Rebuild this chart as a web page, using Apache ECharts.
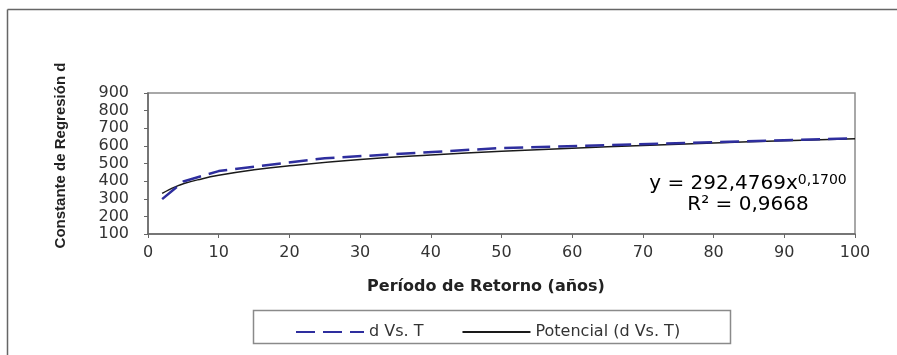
<!DOCTYPE html>
<html>
<head>
<meta charset="utf-8">
<script src="https://cdn.jsdelivr.net/npm/echarts@6/dist/echarts.min.js"></script>
<style>
html,body{margin:0;padding:0;background:#fff;}
#chart{width:897px;height:355px;}
</style>
</head>
<body>
<div id="chart"></div>
<script>
// Observed data: d vs. return period T
var periods = [2, 5, 10, 25, 50, 100];
var dValues = [298, 398, 457, 530, 588, 643];

// Power trendline
var trendT = [2, 3, 4, 5, 7, 10, 15, 20, 30, 40, 50, 60, 70, 80, 90, 100];
var trendD = [330, 352, 370, 385, 407, 433, 464, 487, 522, 548, 569, 587, 602, 616, 629, 640];

var xTicks = [0, 10, 20, 30, 40, 50, 60, 70, 80, 90, 100];
var yTicks = [100, 200, 300, 400, 500, 600, 700, 800, 900];

var seriesNames = ['d Vs. T', 'Potencial (d Vs. T)'];
var xTitle = 'Período de Retorno (años)';
var yTitle = 'Constante de Regresión d';
var eqLine1 = 'y = 292,4769x';
var eqExp = '0,1700';
var eqLine2 = 'R² = 0,9668';

function pairs(xs, ys) { return xs.map(function (x, i) { return [x, ys[i]]; }); }

var chart = echarts.init(document.getElementById('chart'), null, {renderer: 'canvas'});
var FONT = 'DejaVu Sans';

chart.setOption({
  backgroundColor: '#ffffff',
  animation: false,
  grid: {left: 148, right: 42, top: 93, bottom: 121, show: true, borderColor: '#8c8c8c', borderWidth: 1.5, backgroundColor: '#ffffff'},
  xAxis: {
    type: 'value', min: xTicks[0], max: xTicks[xTicks.length - 1], interval: 10,
    name: xTitle, nameLocation: 'middle', nameGap: 45,
    nameTextStyle: {fontFamily: FONT, fontWeight: 'bold', fontSize: 16, color: '#222', padding: [0, 31, 0, 0]},
    axisLine: {lineStyle: {color: '#666', width: 1.5}},
    axisTick: {show: true, inside: false, length: 4, lineStyle: {color: '#666'}},
    axisLabel: {fontFamily: FONT, fontSize: 16, color: '#333', margin: 11},
    splitLine: {show: false}
  },
  yAxis: {
    type: 'value', min: yTicks[0], max: yTicks[yTicks.length - 1], interval: 100,
    name: yTitle, nameLocation: 'middle', nameGap: 80, nameRotate: 90,
    nameTextStyle: {fontFamily: 'Liberation Sans', fontWeight: 'bold', fontSize: 15, color: '#222', padding: [0, 0, 0, 16]},
    axisLine: {show: true, lineStyle: {color: '#666', width: 1.5}},
    axisTick: {show: true, inside: false, length: 4, lineStyle: {color: '#666'}},
    axisLabel: {fontFamily: FONT, fontSize: 16, color: '#333', margin: 19},
    splitLine: {show: false}
  },
  legend: {
    left: 290, top: 319, itemWidth: 68, itemHeight: 14, itemGap: 38,
    itemStyle: {opacity: 0},
    textStyle: {fontFamily: FONT, fontSize: 16, color: '#333'},
    data: seriesNames
  },
  graphic: [
    {type: 'line', silent: true, z: -10, shape: {x1: 7.5, y1: 9.5, x2: 7.5, y2: 360}, style: {stroke: '#666', lineWidth: 1.5}},
    {type: 'line', silent: true, z: -10, shape: {x1: 7.5, y1: 9.5, x2: 900, y2: 9.5}, style: {stroke: '#666', lineWidth: 1.5}},
    {type: 'rect', silent: true, z: -5, shape: {x: 253.5, y: 310.5, width: 477, height: 33}, style: {fill: '#fff', stroke: '#8a8a8a', lineWidth: 1.5}},
    {type: 'text', silent: true, x: 748, y: 173, z: 10,
      style: {
        text: '{m|' + eqLine1 + '}{s|' + eqExp + '}\n{r|' + eqLine2 + '}',
        align: 'center', verticalAlign: 'top',
        rich: {
          m: {fontFamily: FONT, fontSize: 20, color: '#222', lineHeight: 21, verticalAlign: 'bottom', align: 'center'},
          s: {fontFamily: FONT, fontSize: 14, color: '#222', lineHeight: 21, verticalAlign: 'top', align: 'center', padding: [0, 0, 8, 0]},
          r: {fontFamily: FONT, fontSize: 20, color: '#222', lineHeight: 21, align: 'center'}
        }
      }
    }
  ],
  series: [
    {
      name: seriesNames[0], type: 'line', data: pairs(periods, dValues),
      symbol: 'none', showSymbol: false, z: 3,
      lineStyle: {color: '#2e2e9e', width: 2.5, type: [19, 8]},
      itemStyle: {color: '#2e2e9e'}
    },
    {
      name: seriesNames[1], type: 'line', data: pairs(trendT, trendD),
      symbol: 'none', showSymbol: false, smooth: true, z: 2,
      lineStyle: {color: '#1a1a1a', width: 1.5},
      itemStyle: {color: '#1a1a1a'}
    }
  ]
});
</script>
</body>
</html>
